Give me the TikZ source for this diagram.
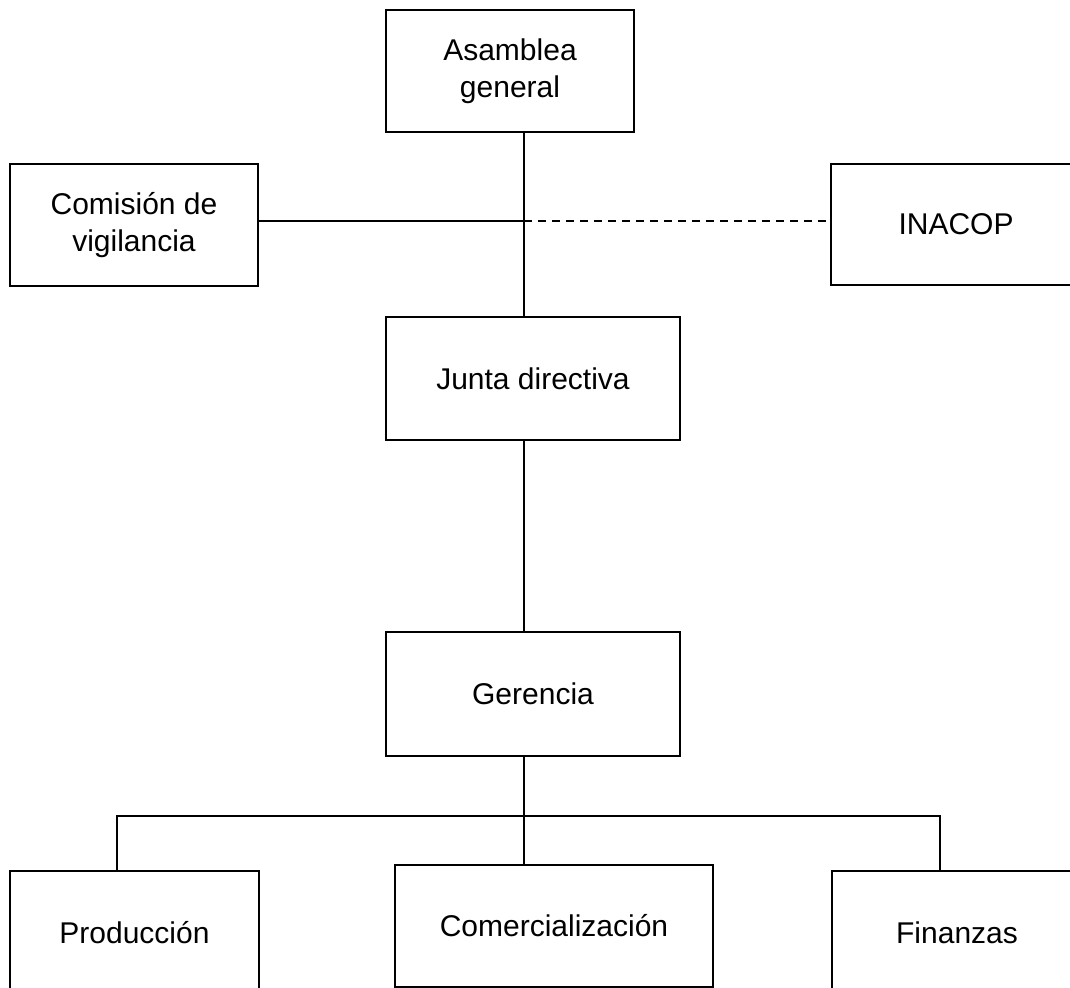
\documentclass[tikz,border=0pt]{standalone}
\usepackage{fontspec}
\setmainfont{Liberation Sans}
\begin{document}
\begin{tikzpicture}[x=0.5pt,y=-0.5pt,
  orgbox/.style={draw=black, line width=1pt, inner sep=0pt, outer sep=0pt,
    align=center, font=\fontsize{15}{18.5}\selectfont, text=black},
  conn/.style={draw=black, line width=1pt},
  dashconn/.style={conn, dash pattern=on 4pt off 3pt}]
\useasboundingbox (0,0) rectangle (1070,988);
\clip (0,0) rectangle (1070,988);
% boxes
\node[orgbox, minimum width=124pt, minimum height=61pt] (asam) at (510,71) {Asamblea\\general};
\node[orgbox, minimum width=124pt, minimum height=61pt] (comv) at (134,225) {Comisión de\\vigilancia};
\node[orgbox, minimum width=125pt, minimum height=60.5pt] (inac) at (956,224.5) {INACOP};
\node[orgbox, minimum width=147pt, minimum height=61.5pt] (junta) at (533,378.5) {Junta directiva};
\node[orgbox, minimum width=147pt, minimum height=62pt] (ger) at (533,694) {Gerencia};
\node[orgbox, minimum width=124.5pt, minimum height=62pt] (prod) at (134.5,933) {Producción};
\node[orgbox, minimum width=159pt, minimum height=61pt] (come) at (554,926) {Comercialización};
\node[orgbox, minimum width=125pt, minimum height=62pt] (fin) at (957,933) {Finanzas};
% helper coordinates
\coordinate (axis) at (524,0);
\coordinate (mid) at (524,221);
\coordinate (busl) at (117,816);
\coordinate (busr) at (940,816);
% connectors
\draw[conn] (axis |- asam.south) -- (axis |- junta.north);
\draw[conn] (mid -| comv.east) -- (mid);
\draw[dashconn] (mid) -- (mid -| inac.west);
\draw[conn] (axis |- junta.south) -- (axis |- ger.north);
\draw[conn] (axis |- ger.south) -- (axis |- come.north);
\draw[conn] (busl |- prod.north) -- (busl) -- (busr) -- (busr |- fin.north);
\end{tikzpicture}
\end{document}
